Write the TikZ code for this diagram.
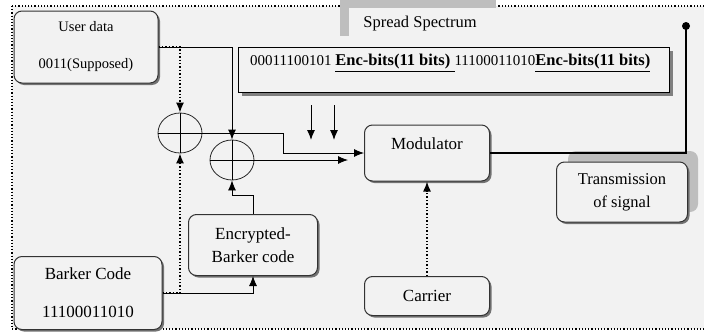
\documentclass[tikz,border=0pt]{standalone}
\usepackage{fontspec}
\setmainfont{Liberation Serif}
\usetikzlibrary{shapes.geometric,shadows,arrows.meta}

\definecolor{bgcol}{RGB}{242,242,242}
\definecolor{shadecol}{RGB}{190,190,190}

\begin{document}
\begin{tikzpicture}[
  x=1pt, y=-1pt,
  >={Latex[length=10pt,width=8pt]},
  every node/.style={font=\fontsize{14.5}{16}\selectfont},
  bigtext/.style={font=\fontsize{17}{23}\selectfont},
  blockbox/.style={draw=black!80,line width=1pt,rectangle,rounded corners=8pt,fill=bgcol,align=center,
    drop shadow={shadow xshift=2pt,shadow yshift=-2pt,fill=black!55,opacity=1}},
  xorcircle/.style={draw=black!85,ellipse,line width=0.8pt,minimum width=44pt,minimum height=40pt,inner sep=0pt},
  link/.style={line width=0.8pt,->},
  dotlink/.style={line width=1.4pt,dotted,->}
]
  \useasboundingbox (0,0) rectangle (704,332);
  \draw[fill=bgcol,line width=1.2pt,dotted] (12,6) rectangle (712,329);

  % title tab
  \fill[shadecol] (340,0) rectangle (496,36);
  \node[fill=bgcol,minimum width=157pt,minimum height=38pt,anchor=north west] (title) at (349,8) {};
  \node[font=\fontsize{16.5}{18}\selectfont] (titletext) at (420,24) {Spread Spectrum};

  % bit stream
  \node[draw=black,line width=1.2pt,fill=bgcol,minimum width=431pt,minimum height=45pt,anchor=north west,
    drop shadow={shadow xshift=3pt,shadow yshift=-3pt,fill=black!50,opacity=1}] (bits) at (238,47) {};
  \node[anchor=west,inner sep=0pt,font=\fontsize{15}{16}\selectfont] (bitstext) at (250,63)
    {00011100101 {\fontsize{16.5}{18}\selectfont\bfseries\underline{Enc-bits(11 bits)\ }}11100011010{\fontsize{16.5}{18}\selectfont\bfseries\underline{Enc-bits(11 bits)}}};

  % blocks
  \node[blockbox,minimum width=144pt,minimum height=72pt] (user) at (86,47) {User data\\[21pt]0011(Supposed)};
  \node[blockbox,bigtext,minimum width=148pt,minimum height=73pt] (barker) at (88,293) {Barker Code\\[15pt]11100011010};
  \node[blockbox,bigtext,minimum width=129pt,minimum height=61pt] (enc) at (253,245) {Encrypted-\\Barker code};
  \node[blockbox,bigtext,minimum width=125pt,minimum height=56pt] (mod) at (427,153) {Modulator\\[-4pt]\mbox{}};
  \node[blockbox,bigtext,minimum width=125pt,minimum height=39pt] (carrier) at (427,296) {Carrier};
  \fill[shadecol,rounded corners=8pt] (568,151) rectangle (698,212);
  \node[blockbox,minimum width=131pt,minimum height=60pt,font=\fontsize{16.5}{23}\selectfont] (trans) at (622,192) {Transmission\\of signal};

  % xor nodes
  \node[xorcircle] (xa) at (180,133) {};
  \node[xorcircle] (xb) at (232,160) {};
  \draw[line width=0.8pt] (xa.north) -- (xa.south) (xa.west) -- (xa.east);
  \draw[line width=0.8pt] (xb.north) -- (xb.south) (xb.west) -- (xb.east);

  \coordinate (xbout) at (348,160);
  \coordinate (pa) at (311,105);
  \coordinate (pb) at (334,105);
  \coordinate (tx) at (686,26);

  % connectors
  \draw[dotlink] (user.east) -| (xa.north);
  \draw[link] (user.east) -| (xb.north);
  \draw[link] (xa.east) -- ++(81,0) |- (mod.west);
  \draw[link] (xb.east) -- (xbout);
  \draw[link,line width=1pt] (pa) -- ++(0,35);
  \draw[link,line width=1pt] (pb) -- ++(0,35);
  \draw[dotlink] (barker.east) -| (xa.south);
  \draw[link] (barker.east) -| (enc.south);
  \draw[link] (enc.north) -- ++(0,-19) -| (xb.south);
  \draw[dotlink] (carrier.north) -- (mod.south);
  \draw[line width=1.6pt] (mod.east) -| (tx);
  \fill (tx) circle (4pt);
\end{tikzpicture}
\end{document}
